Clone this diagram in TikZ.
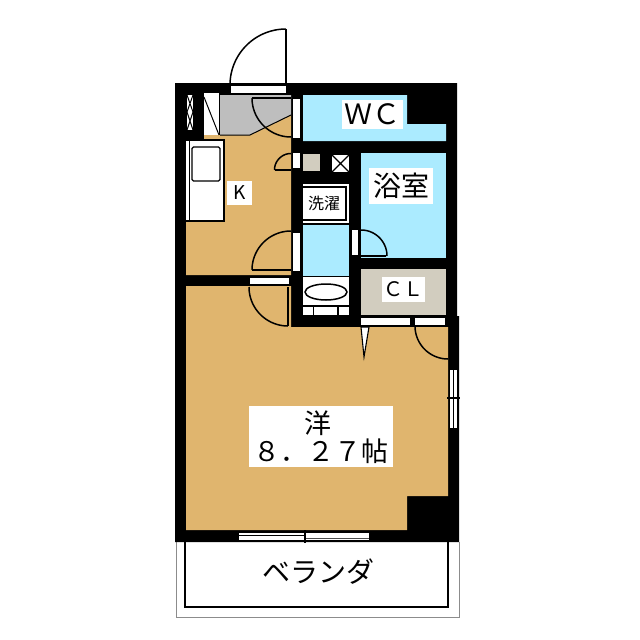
\documentclass[tikz,border=0pt]{standalone}
\usepackage{fontspec}
\setmainfont{Noto Sans CJK JP}
\definecolor{roomtan}{HTML}{E0B56E}
\definecolor{wetblue}{HTML}{ABEBFF}
\definecolor{clbeige}{HTML}{D2CDBF}
\definecolor{entrygray}{HTML}{BEBEBE}
\definecolor{edgegray}{HTML}{8C8C8C}
\tikzset{
  lbl/.style={fill=white,inner sep=0pt,align=center,font=\fontsize{#1}{#1}\selectfont},
  txt/.style={inner sep=0pt,align=center,font=\fontsize{#1}{#1}\selectfont},
  swing/.style={line width=1.5pt,draw=black},
  hair/.style={line width=1pt,draw=black}
}
\newcommand{\doorarc}[5]{\draw[swing] plot[domain=#4:#5,samples=40] ({#1+#3*cos(\x)},{#2+#3*sin(\x)});}
\newcommand{\bx}[5]{\fill[#1] (#2,#3) rectangle (#4,#5);}
\begin{document}
\begin{tikzpicture}[x=1pt,y=-1pt]
\useasboundingbox (0,0) rectangle (640,640);
\fill[white] (0,0) rectangle (640,640);
% balcony
\draw[edgegray,line width=0.8pt] (176,542) -- (176,617) -- (459,617) -- (459,542);
\draw[black,line width=1.5pt] (185,542) -- (185,607) -- (448,607) -- (448,542);
% building mass
\fill[black] (175,83) -- (457,83) -- (457,316) -- (459,316) -- (459,542) -- (175,542) -- cycle;
% kitchen
\fill[roomtan] (204,135) -- (250,135) -- (291,115) -- (291,275) -- (186,275) -- (186,140) -- (204,140) -- cycle;
% entry
\fill[entrygray] (220,95) -- (291,95) -- (291,115) -- (250,135) -- (220,135) -- cycle;
\draw[hair] (220,135) -- (250,135) -- (291,115);
% main room
\fill[roomtan] (186,286) -- (291,286) -- (291,327) -- (448,327) -- (448,496) -- (407,496) -- (407,530) -- (186,530) -- cycle;
% wet rooms
\fill[wetblue] (303,95) -- (407,95) -- (407,124) -- (446,124) -- (446,141) -- (303,141) -- cycle;
\bx{wetblue}{361}{153}{446}{258}
\bx{wetblue}{303}{225}{349}{276}
\bx{clbeige}{361}{269}{446}{315}
\bx{clbeige}{303}{154}{320}{171}
% entrance door
\bx{white}{231}{86}{286}{93}
\draw[swing] (286,29) -- (286,85);
\doorarc{286}{85}{56}{180}{270}
% vent and closet by the entrance
\bx{white}{187}{95}{193}{130}
\draw[hair] (187,95) -- (193,112) -- (187,130) (193,95) -- (187,112) -- (193,130);
\bx{white}{204}{93}{219}{135}
\draw[hair] (204,97) -- (219,135);
% entry door to WC
\bx{white}{293}{99}{300}{138}
\draw[swing] (252,98) -- (291,98);
\doorarc{291}{98}{39}{180}{90}
% small cupboard door
\bx{white}{293}{153}{300}{168}
\draw[swing] (275,170) -- (291,170);
\doorarc{291}{170}{16.5}{180}{270}
% meter box
\bx{white}{332}{155}{349}{172}
\draw[line width=1.3pt] (332,155) -- (349,172) (349,155) -- (332,172);
% kitchen counter
\draw[fill=white,line width=1.3pt] (185.5,140) rectangle (224,221);
\draw[line width=1pt] (189,140) -- (189,221);
\draw[fill=white,line width=1.3pt,rounded corners=1.5pt] (192,147) rectangle (220,181);
% wash-room door
\bx{white}{293}{233}{300}{271}
\draw[swing] (252,270) -- (291,270);
\doorarc{291}{270}{39}{180}{270}
% kitchen to room door
\bx{white}{250}{278}{289}{284}
\draw[swing] (288,287) -- (288,326);
\doorarc{288}{287}{39}{180}{90}
% laundry
\bx{white}{303}{184}{349}{223}
\draw[line width=1.3pt] (303,187) -- (346,187) -- (346,220) -- (303,220);
% basin
\bx{white}{303}{277}{349}{305}
\draw[fill=white,line width=1.5pt] (326,292) ellipse [x radius=21,y radius=8];
\bx{white}{303}{307}{313}{315}
\bx{white}{314}{307}{337}{315}
\bx{white}{339}{307}{349}{315}
% bath door
\bx{white}{352}{230}{358}{255}
\draw[swing] (361,256) -- (386,256);
\doorarc{361}{256}{26}{270}{360}
% closet doors
\bx{white}{361}{318}{410}{325}
\bx{white}{415}{318}{445}{325}
\draw[fill=white,line width=1.1pt] (361,327) -- (369,327) -- (364,357) -- cycle;
\doorarc{448}{326}{33}{180}{90}
% east window
\bx{white}{450}{370}{457}{428}
\draw[line width=1pt] (453.5,370) -- (453.5,428);
\draw[line width=1.1pt] (447,398) -- (460,398);
% south window
\bx{white}{239}{533}{369}{540}
\draw[line width=1pt] (239,535.5) -- (305,535.5);
\draw[line width=1pt,draw=black!70] (305,538) -- (369,538);
\draw[line width=1.3pt] (305,530) -- (305,543);
% labels
\node[lbl=28,minimum width=61pt,minimum height=29pt] (wc) at (372.5,114.5) {ＷＣ};
\node[lbl=28,minimum width=64pt,minimum height=36pt] (bath) at (401,186) {浴室};
\node[lbl=19,minimum width=25pt,minimum height=24pt] (k) at (239.5,193) {K};
\node[txt=16] (laundry) at (324,203.5) {洗濯};
\node[lbl=20,minimum width=43pt,minimum height=25pt] (cl) at (403.5,289.5) {ＣＬ};
\fill[white] (249,406) rectangle (393,467);
\node[txt=27] (room) at (318,423) {洋};
\node[txt=27] (size) at (321,451) {８．２７帖};
\node[txt=28] (veranda) at (318,572) {ベランダ};
\end{tikzpicture}
\end{document}
